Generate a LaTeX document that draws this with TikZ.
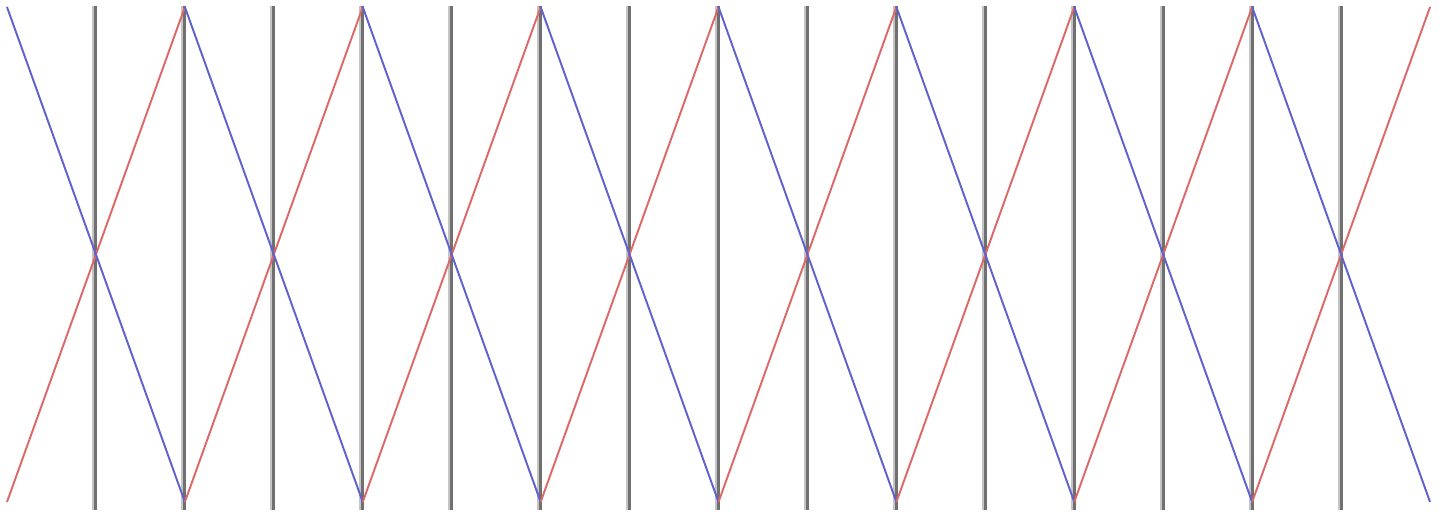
\documentclass[tikz,border=0pt]{standalone}
\usetikzlibrary{calc}
\definecolor{redline}{RGB}{222,104,104}
\definecolor{blueline}{RGB}{96,96,208}
\definecolor{darkbar}{RGB}{112,112,112}
\definecolor{lightbar}{RGB}{196,196,196}
\begin{document}
\begin{tikzpicture}

		\def\dx{3.5576}
		\def\top{10.2}
		\def\bot{0.3}

		\tikzset{line/.style={draw,line width=1.1pt}}
		\tikzset{rise/.style={line,redline}}
		\tikzset{fall/.style={line,blueline}}
		\tikzset{bar/.style={draw=darkbar,line width=1.7pt}}
		\tikzset{shade/.style={draw=lightbar,line width=1.1pt}}

		\useasboundingbox (0, 0) rectangle (28.94, 10.34);

		% Zigzag corners.
		\foreach \i in {0,...,8} {
			\coordinate (t\i) at (0.14 + \i*\dx, \top);
			\coordinate (b\i) at (0.14 + \i*\dx, \bot);
		}

		% Grey bars.
		\foreach \k in {1,...,15} {
			\coordinate (vt\k) at (0.14 + \k*\dx/2, 10.22);
			\coordinate (vb\k) at (0.14 + \k*\dx/2, 0.14);
			\path[shade] ($(vt\k)+(-0.05,0)$) to ($(vb\k)+(-0.05,0)$);
			\path[bar] (vt\k) to (vb\k);
		}

		% Red rising, blue falling.
		\foreach \i [evaluate=\i as \j using int(\i+1)] in {0,...,7} {
			\path[rise] (b\i) to (t\j);
			\path[fall] (t\i) to (b\j);
		}

	\end{tikzpicture}
\end{document}
